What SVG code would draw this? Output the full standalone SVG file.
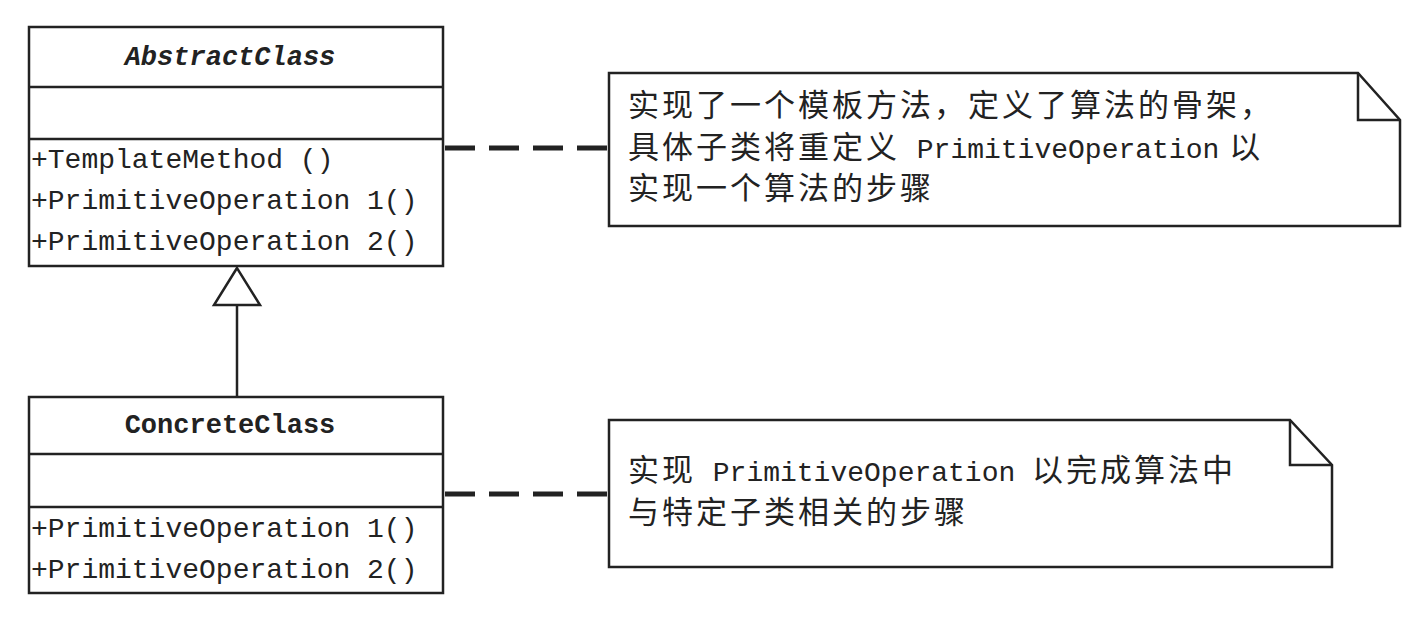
<svg xmlns="http://www.w3.org/2000/svg" width="1424" height="620" viewBox="0 0 1424 620">
<style>
.box{fill:#fff;stroke:#222;stroke-width:2.5}
.ln{stroke:#222;stroke-width:2.5;fill:none}
.mono{font-family:"Liberation Mono","DejaVu Sans Mono",monospace;font-size:28px;fill:#222}
.title{font-family:"Liberation Mono","DejaVu Sans Mono",monospace;font-size:27px;font-weight:bold;fill:#222}
.cjk{font-family:"Noto Sans CJK SC","Noto Sans",sans-serif;font-size:31px;fill:#222;letter-spacing:3px}
.lat{font-family:"Liberation Mono","DejaVu Sans Mono",monospace;font-size:28px;letter-spacing:0}
.dash{stroke:#222;stroke-width:5;stroke-dasharray:30 14;fill:none}
</style>
<rect width="1424" height="620" fill="#fff"/>
<g id="abstract-class">
<rect class="box" x="29" y="27" width="414" height="239"/>
<line class="ln" x1="29" y1="87" x2="443" y2="87"/>
<line class="ln" x1="29" y1="139" x2="443" y2="139"/>
<text class="title" x="230" y="65" text-anchor="middle" font-style="italic">AbstractClass</text>
<text class="mono" x="31" y="168">+TemplateMethod ()</text>
<text class="mono" x="31" y="209">+PrimitiveOperation 1()</text>
<text class="mono" x="31" y="250">+PrimitiveOperation 2()</text>
</g>
<g id="concrete-class">
<rect class="box" x="29" y="397" width="414" height="196"/>
<line class="ln" x1="29" y1="454" x2="443" y2="454"/>
<line class="ln" x1="29" y1="507" x2="443" y2="507"/>
<text class="title" x="230" y="433" text-anchor="middle">ConcreteClass</text>
<text class="mono" x="31" y="537">+PrimitiveOperation 1()</text>
<text class="mono" x="31" y="578">+PrimitiveOperation 2()</text>
</g>
<g id="note1">
<path class="box" d="M609 73 H1358 L1400 120 V226 H609 Z"/>
<path class="ln" d="M1358 73 V120 H1400"/>
<text class="cjk" x="628" y="116">实现了一个模板方法，定义了算法的骨架，</text>
<text class="cjk" x="628" y="158">具体子类将重定义<tspan class="lat"> PrimitiveOperation</tspan> 以</text>
<text class="cjk" x="628" y="199">实现一个算法的步骤</text>
</g>
<g id="note2">
<path class="box" d="M609 420 H1290 L1332 465 V567 H609 Z"/>
<path class="ln" d="M1290 420 V465 H1332"/>
<text class="cjk" x="628" y="481">实现<tspan class="lat"> PrimitiveOperation </tspan>以完成算法中</text>
<text class="cjk" x="628" y="523">与特定子类相关的步骤</text>
</g>
<g id="connectors">
<line class="ln" x1="237" y1="305" x2="237" y2="397"/>
<path class="ln" d="M237 268 L214 305 H260 Z" fill="#fff"/>
<line class="dash" x1="445" y1="148" x2="609" y2="148"/>
<line class="dash" x1="445" y1="494" x2="609" y2="494"/>
</g>
</svg>
